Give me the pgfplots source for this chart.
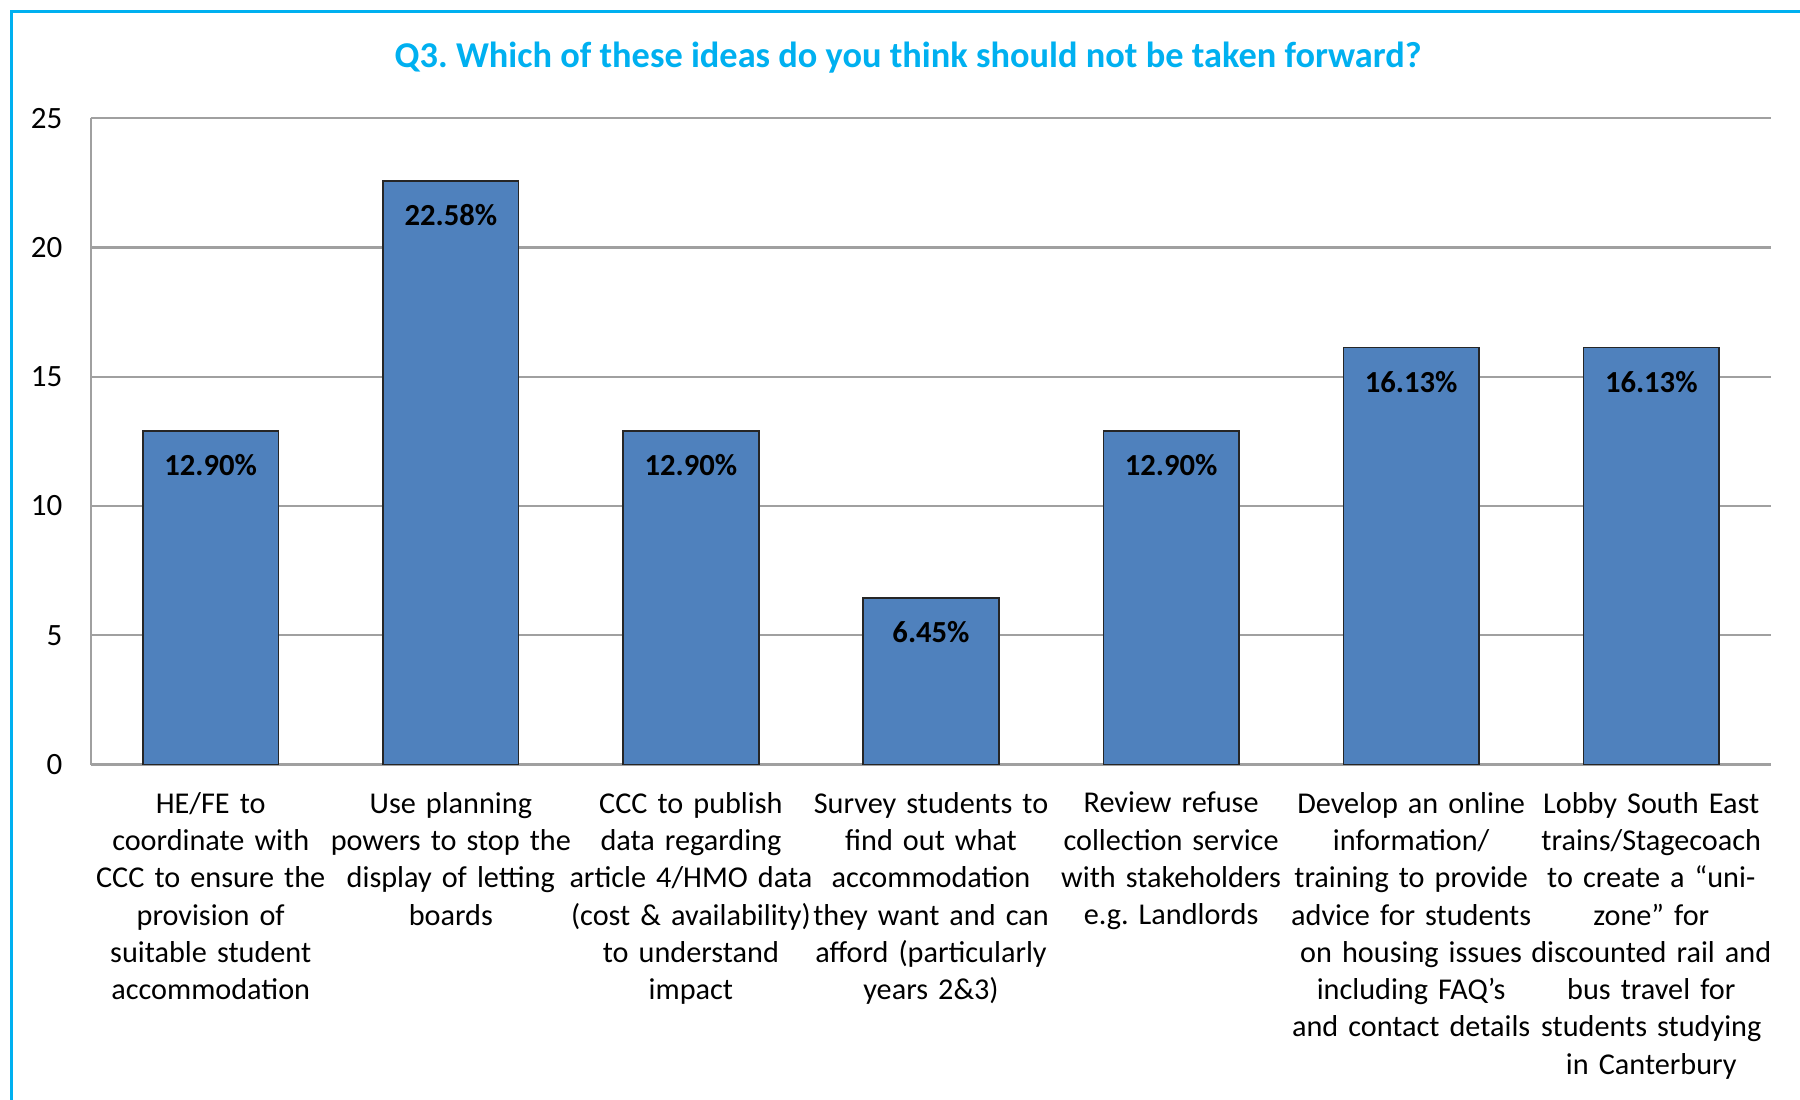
\documentclass[border=0pt]{standalone}
\usepackage{fontspec}
\setmainfont{Carlito}
\usepackage{pgfplots}
\pgfplotsset{compat=1.18}
\definecolor{barblue}{RGB}{79,129,189}
\definecolor{titleblue}{RGB}{0,176,240}
\definecolor{gridgray}{RGB}{160,160,160}
\frenchspacing
\begin{document}
\frenchspacing
\begin{tikzpicture}
\useasboundingbox (-23.7pt,-87.6pt) rectangle (446.7pt,199.8pt);
\draw[titleblue, line width=0.9pt] (-20.7pt,-120pt) -- (-20.7pt,196.8pt) -- (480pt,196.8pt);
\begin{axis}[
  at={(0,0)}, anchor=south west,
  scale only axis,
  width=439.2pt, height=168.9pt,
  xmin=-0.5, xmax=6.5,
  ymin=0, ymax=25,
  ytick={0,5,10,15,20,25},
  xtick={0,1,2,3,4,5,6},
  xticklabels={
    {HE/FE to\\coordinate with\\CCC to ensure the\\provision of\\suitable student\\accommodation},
    {Use planning\\powers to stop the\\display of letting\\boards},
    {CCC to publish\\data regarding\\article 4/HMO data\\(cost \& availability)\\to understand\\impact},
    {Survey students to\\find out what\\accommodation\\they want and can\\afford (particularly\\years 2\&3)},
    {Review refuse\\collection service\\with stakeholders\\e.g. Landlords},
    {Develop an online\\information/\\training to provide\\advice for students\\on housing issues\\including FAQ’s\\and contact details},
    {Lobby South East\\trains/Stagecoach\\to create a “uni-\\zone” for\\discounted rail and\\bus travel for\\students studying\\in Canterbury}
  },
  xticklabel style={anchor=north, inner sep=0pt, yshift=-7pt, align=center, text width=66pt,
    font=\frenchspacing\fontsize{7.9}{9.75}\selectfont},
  yticklabel style={anchor=east, inner sep=0pt, xshift=-7.2pt, font=\fontsize{8.1}{10}\selectfont},
  /pgf/number format/assume math mode=true,
  major tick length=0pt,
  axis lines*=left,
  axis line style={-, draw=gridgray, line width=0.6pt},
  ymajorgrids,
  major grid style={draw=gridgray, line width=0.6pt},
  ybar, bar width=35.4pt,
  point meta=explicit symbolic,
  nodes near coords,
  every node near coord/.append style={anchor=center, yshift=-9pt, font=\bfseries\fontsize{8}{10}\selectfont, text=black},
  clip=false,
]
\addplot[fill=barblue, draw=black!85, line width=0.45pt] coordinates {
  (0,12.90) [12.90\%]
  (1,22.58) [22.58\%]
  (2,12.90) [12.90\%]
  (3,6.45)  [6.45\%]
  (4,12.90) [12.90\%]
  (5,16.13) [16.13\%]
  (6,16.13) [16.13\%]
};
\end{axis}
\node[font=\frenchspacing\bfseries\fontsize{9.5}{11}\selectfont, text=titleblue, anchor=center] at (213.6pt,184.8pt)
  {Q3. Which of these ideas do you think should not be taken forward?};
\end{tikzpicture}
\end{document}
